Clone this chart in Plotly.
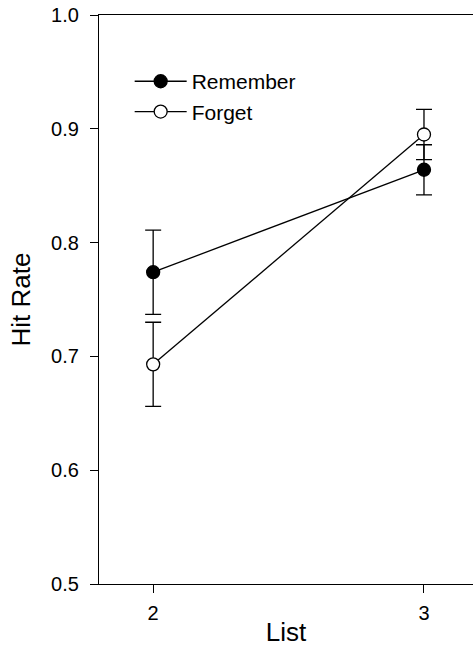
import plotly.graph_objects as go

# Hit rate by list position for the two cue conditions
lists = [2, 3]
remember_rate = [0.774, 0.864]
remember_err = [0.037, 0.022]
forget_rate = [0.693, 0.895]
forget_err = [0.037, 0.022]

y_ticks = [0.5, 0.6, 0.7, 0.8, 0.9, 1.0]
y_tick_text = ["0.5", "0.6", "0.7", "0.8", "0.9", "1.0"]

font_family = "Liberation Sans, Arial, sans-serif"

fig = go.Figure()

fig.add_trace(go.Scatter(
    x=lists, y=remember_rate, name="Remember", mode="lines+markers",
    line=dict(color="black", width=1.3),
    marker=dict(symbol="circle", size=13, color="black",
                line=dict(color="black", width=1.3)),
    error_y=dict(type="data", array=remember_err, visible=True,
                 color="black", thickness=1.3, width=8),
))
fig.add_trace(go.Scatter(
    x=lists, y=forget_rate, name="Forget", mode="lines+markers",
    line=dict(color="black", width=1.3),
    marker=dict(symbol="circle", size=13, color="white",
                line=dict(color="black", width=1.3)),
    error_y=dict(type="data", array=forget_err, visible=True,
                 color="black", thickness=1.3, width=8),
))

fig.update_layout(
    width=473, height=647,
    margin=dict(l=99, r=0, t=15, b=63),
    paper_bgcolor="white", plot_bgcolor="white",
    font=dict(family=font_family, color="black"),
    showlegend=True,
    legend=dict(
        x=0.082, y=0.919, xanchor="left", yanchor="top",
        bgcolor="rgba(0,0,0,0)", borderwidth=0,
        font=dict(size=21, family=font_family, color="black"),
        itemwidth=52,
    ),
)

fig.update_xaxes(
    range=[1.8, 3.181], tickvals=lists, ticktext=[str(v) for v in lists],
    showline=True, linecolor="black", linewidth=1.2, mirror=True,
    ticks="outside", ticklen=8, tickwidth=1.2, tickcolor="black",
    showgrid=False, zeroline=False,
    tickfont=dict(size=20), ticklabelstandoff=3,
    title=dict(text="List", font=dict(size=26), standoff=2),
)
fig.update_yaxes(
    range=[0.5, 1.0], tickvals=y_ticks, ticktext=y_tick_text,
    showline=True, linecolor="black", linewidth=1.2, mirror=False,
    ticks="outside", ticklen=8, tickwidth=1.2, tickcolor="black",
    showgrid=False, zeroline=False,
    tickfont=dict(size=20), ticklabelstandoff=7,
    title=dict(text="Hit Rate", font=dict(size=26), standoff=12),
)

fig.write_html("out.html")
